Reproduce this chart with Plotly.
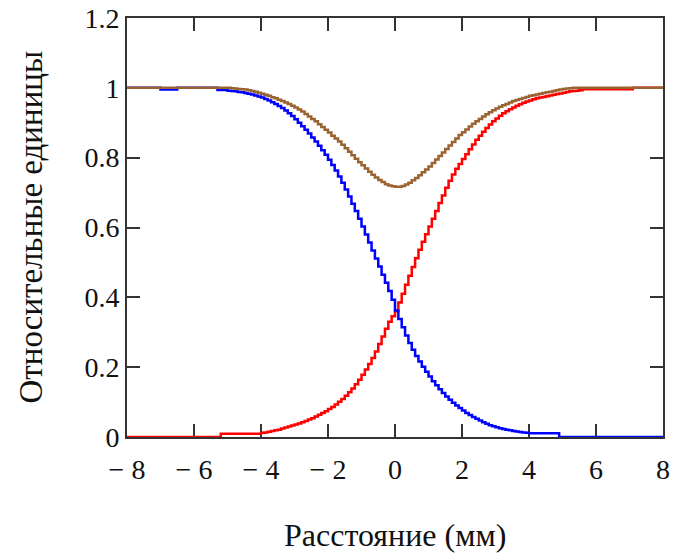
import plotly.graph_objects as go

# x grid: -8.0 .. 8.0 mm in 0.1 mm steps (161 samples)
x_mm = [round(-8.0 + 0.1 * i, 1) for i in range(161)]

# Blue (decreasing) profile
blue = ([1.0] * 10 + [0.995] * 5 + [1.0] * 12 + [0.994] * 3 + [
    0.992, 0.991, 0.990, 0.988, 0.987, 0.985, 0.983, 0.981, 0.978, 0.975,   # -5.0 .. -4.1
    0.972, 0.968, 0.964, 0.959, 0.954, 0.948, 0.942, 0.935, 0.927, 0.919,   # -4.0 .. -3.1
    0.910, 0.900, 0.890, 0.880, 0.869, 0.858, 0.846, 0.834, 0.821, 0.808,   # -3.0 .. -2.1
    0.794, 0.779, 0.763, 0.746, 0.728, 0.709, 0.689, 0.668, 0.647, 0.625,   # -2.0 .. -1.1
    0.603, 0.580, 0.557, 0.534, 0.511, 0.488, 0.465, 0.442, 0.418, 0.393,   # -1.0 .. -0.1
    0.362, 0.338, 0.314, 0.291, 0.269, 0.250, 0.232, 0.216, 0.201, 0.187,   #  0.0 ..  0.9
    0.173, 0.160, 0.148, 0.137, 0.126, 0.116, 0.107, 0.098, 0.090, 0.083,   #  1.0 ..  1.9
    0.076, 0.069, 0.063, 0.057, 0.052, 0.047, 0.042, 0.038, 0.034, 0.031,   #  2.0 ..  2.9
    0.028, 0.025, 0.023, 0.021, 0.019, 0.017, 0.016, 0.014, 0.013, 0.012,   #  3.0 ..  3.9
] + [0.011] * 9 + [0.0] * 32)

# Red (increasing) profile
red = ([0.0] * 28 + [0.009] * 12 + [
    0.012, 0.013, 0.015, 0.017, 0.019, 0.021, 0.024, 0.027, 0.030, 0.033,   # -4.0 .. -3.1
    0.036, 0.039, 0.042, 0.046, 0.050, 0.054, 0.059, 0.064, 0.069, 0.074,   # -3.0 .. -2.1
    0.080, 0.086, 0.093, 0.101, 0.109, 0.118, 0.128, 0.139, 0.151, 0.164,   # -2.0 .. -1.1
    0.178, 0.193, 0.209, 0.226, 0.245, 0.266, 0.288, 0.310, 0.330, 0.346,   # -1.0 .. -0.1
    0.360, 0.385, 0.410, 0.436, 0.462, 0.487, 0.512, 0.536, 0.559, 0.581,   #  0.0 ..  0.9
    0.603, 0.625, 0.647, 0.670, 0.692, 0.714, 0.734, 0.752, 0.768, 0.782,   #  1.0 ..  1.9
    0.796, 0.810, 0.824, 0.838, 0.851, 0.863, 0.874, 0.885, 0.895, 0.904,   #  2.0 ..  2.9
    0.912, 0.920, 0.927, 0.933, 0.939, 0.944, 0.949, 0.953, 0.957, 0.961,   #  3.0 ..  3.9
    0.964, 0.967, 0.970, 0.972, 0.974, 0.976, 0.978, 0.980, 0.982, 0.984,   #  4.0 ..  4.9
    0.986, 0.988, 0.990, 0.991, 0.992, 0.993,                               #  5.0 ..  5.5
] + [0.996] * 15 + [1.0] * 10)

# Brown (sum) profile
total = ([1.0] * 31 + [
    0.999, 0.998, 0.997, 0.996, 0.995, 0.993, 0.991, 0.989, 0.986,          # -4.9 .. -4.1
    0.983, 0.980, 0.977, 0.973, 0.970, 0.966, 0.962, 0.958, 0.954, 0.949,   # -4.0 .. -3.1
    0.944, 0.938, 0.932, 0.925, 0.918, 0.911, 0.904, 0.896, 0.888, 0.880,   # -3.0 .. -2.1
    0.872, 0.863, 0.855, 0.846, 0.837, 0.827, 0.817, 0.807, 0.797, 0.787,   # -2.0 .. -1.1
    0.778, 0.769, 0.760, 0.751, 0.743, 0.736, 0.730, 0.724, 0.720, 0.718,   # -1.0 .. -0.1
    0.717, 0.717, 0.719, 0.723, 0.728, 0.735, 0.742, 0.750, 0.758, 0.766,   #  0.0 ..  0.9
    0.775, 0.785, 0.795, 0.805, 0.815, 0.825, 0.835, 0.845, 0.855, 0.865,   #  1.0 ..  1.9
    0.873, 0.881, 0.889, 0.897, 0.904, 0.911, 0.918, 0.924, 0.930, 0.936,   #  2.0 ..  2.9
    0.941, 0.946, 0.950, 0.954, 0.958, 0.962, 0.965, 0.968, 0.971, 0.974,   #  3.0 ..  3.9
    0.977, 0.979, 0.981, 0.983, 0.985, 0.987, 0.989, 0.991, 0.993, 0.995,   #  4.0 ..  4.9
    0.997, 0.998, 0.999,                                                    #  5.0 ..  5.2
] + [1.0] * 28)

assert len(blue) == len(red) == len(total) == len(x_mm)

x_tickvals = [-8, -6, -4, -2, 0, 2, 4, 6, 8]
x_ticktext = ["\u2212 8", "\u2212 6", "\u2212 4", "\u2212 2", "0", "2", "4", "6", "8"]
y_tickvals = [0, 0.2, 0.4, 0.6, 0.8, 1.0, 1.2]
y_ticktext = ["0", "0.2", "0.4", "0.6", "0.8", "1", "1.2"]

x_title = "Расстояние (мм)"
y_title = "Относительные единицы"

FONT = "Liberation Serif, Times New Roman, serif"
AXC = "#333333"

fig = go.Figure()
fig.add_trace(go.Scatter(x=x_mm, y=red, mode="lines", line=dict(color="#ff0000", width=2.5, shape="hv")))
fig.add_trace(go.Scatter(x=x_mm, y=blue, mode="lines", line=dict(color="#0000ff", width=2.5, shape="hv")))
fig.add_trace(go.Scatter(x=x_mm, y=total, mode="lines", line=dict(color="#9a6432", width=2.5, shape="hv")))

axis_common = dict(
    showgrid=False, zeroline=False, showline=True, linecolor=AXC, linewidth=2,
    mirror="ticks", ticks="inside", ticklen=13, tickwidth=2, tickcolor=AXC,
    tickfont=dict(family=FONT, size=28, color="#111111"), layer="below traces",
    automargin=False, ticklabeloverflow="allow",
)

fig.update_xaxes(range=[-8, 8], tickmode="array", tickvals=x_tickvals, ticktext=x_ticktext,
                 ticklabelstandoff=6, **axis_common)
fig.update_yaxes(range=[0, 1.2], tickmode="array", tickvals=y_tickvals, ticktext=y_ticktext,
                 ticklabelstandoff=0, **axis_common)

fig.update_layout(
    width=678, height=555,
    margin=dict(l=127, r=15, t=18, b=118),
    plot_bgcolor="white", paper_bgcolor="white",
    showlegend=False,
    annotations=[
        dict(text=x_title, xref="paper", yref="paper", x=0.5, y=-98 / 419,
             xanchor="center", yanchor="middle", showarrow=False,
             font=dict(family=FONT, size=32, color="#111111")),
        dict(text=y_title, xref="paper", yref="paper", x=-97 / 536, y=0.5,
             xanchor="center", yanchor="middle", showarrow=False, textangle=-90,
             font=dict(family=FONT, size=33, color="#111111")),
    ],
)

# remove the browser's default body margin so the figure sits at the window origin
fig.write_html("out.html", config={"displayModeBar": False},
               post_script="document.body.style.margin='0';")
